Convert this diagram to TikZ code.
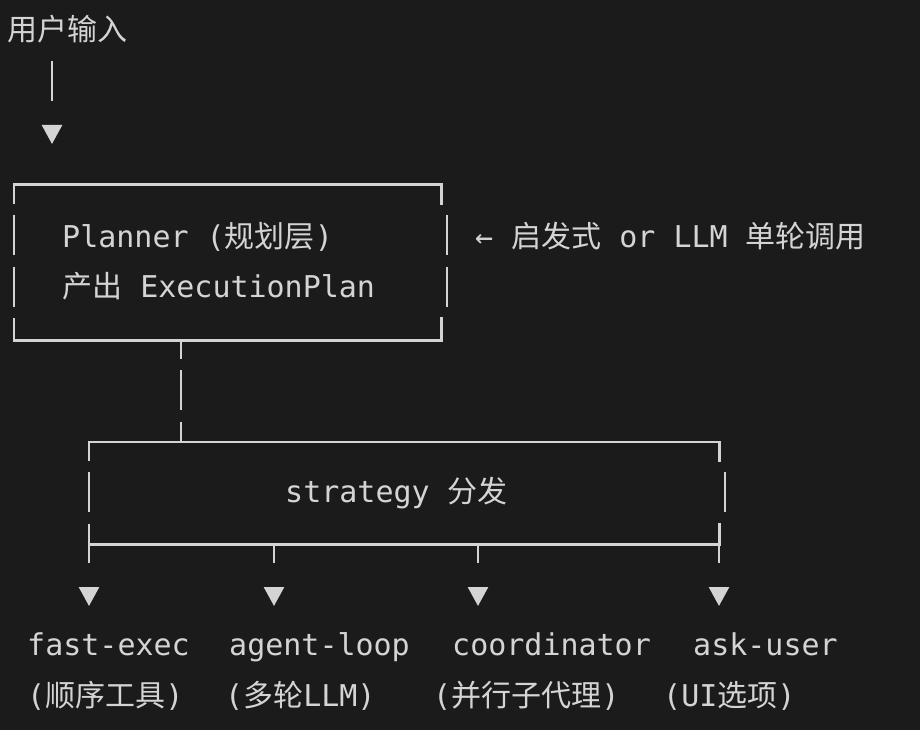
\documentclass[tikz,border=0pt]{standalone}
\usepackage{fontspec}
\setmainfont{DejaVu Sans Mono}
\newfontfamily\cjk{Noto Sans CJK SC}
\usetikzlibrary{arrows.meta}
\definecolor{termbg}{HTML}{1B1B1B}
\definecolor{termfg}{HTML}{D4D4D4}
\def\zh#1{{\cjk #1}}
\tikzset{
  txt/.style={anchor=base west,inner sep=0pt,text=termfg,font=\fontsize{30}{36}\selectfont},
  hline/.style={draw=termfg,line width=2.6pt,line cap=rect},
  vgap/.style={draw=termfg,line width=2.6pt,dash pattern=on 40pt off 11.4pt,dash phase=21pt},
  stemarrow/.style={draw=termfg,line width=2.6pt,dash pattern=on #1 off 200pt,
    -{Triangle[length=19pt,width=20pt]}},
}

\begin{document}
\begin{tikzpicture}[x=1pt,y=-1pt]
          \fill [termbg] (0,0) rectangle (920,730);
          \useasboundingbox (0,0) rectangle (920,730);
          \node [txt] (input) at (7,41) {\zh{用户输入}};
          \coordinate (instem) at (52,61);
          \coordinate (intip) at (52,144);
          \draw [stemarrow=40pt] (instem) -- (intip);
          % planner
          \node [minimum width=427pt,minimum height=155pt,inner sep=0pt] (plan) at (227.5,262.5) {};
          \draw [hline] (plan.north west) -- (plan.north east);
          \draw [hline] (plan.south west) -- (plan.south east);
          \draw [vgap] (plan.north west) -- (plan.south west);
          \draw [hline] (plan.north east) -- ++(0,19);
          \draw [vgap,dash phase=0pt] (447,215.4) -- (447,306.8);
          \draw [hline] (plan.south east) -- ++(0,-21.6);
          \node [txt] (plantitle) at (62,247) {Planner (\zh{规划层})};
          \node [txt] (planout) at (62,297) {\zh{产出} ExecutionPlan};
          \node [txt] (plannote) at (475,247) {← \zh{启发式} or LLM \zh{单轮调用}};
          \coordinate (planfoot) at (181,340);
          \coordinate (disphead) at (181,442);
          \draw [vgap] (planfoot) -- (disphead);
          % dispatch
          \node [minimum width=630pt,minimum height=102pt,inner sep=0pt] (dispatch) at (404,493) {};
          \draw [hline] (dispatch.north west) -- (dispatch.north east);
          \draw [hline] (dispatch.south west) -- (dispatch.south east);
          \draw [vgap] (dispatch.north west) -- (dispatch.south west);
          \draw [hline] (dispatch.north east) -- ++(0,19);
          \draw [vgap,dash phase=0pt] (725,472.4) -- (725,512.4);
          \draw [hline] (dispatch.south east) -- ++(0,-20.2);
          \node [txt] (disptext) at (285,502) {strategy \zh{分发}};
          \coordinate (fasttop) at (89,544);
          \coordinate (fasttip) at (89,606);
          \coordinate (agenttop) at (274,544);
          \coordinate (agenttip) at (274,606);
          \coordinate (coordtop) at (478,544);
          \coordinate (coordtip) at (478,606);
          \coordinate (asktop) at (719,544);
          \coordinate (asktip) at (719,606);
          \draw [stemarrow=19pt] (fasttop) -- (fasttip);
          \draw [stemarrow=19pt] (agenttop) -- (agenttip);
          \draw [stemarrow=19pt] (coordtop) -- (coordtip);
          \draw [stemarrow=19pt] (asktop) -- (asktip);
          % targets
          \node [txt] (fast) at (27,655) {fast-exec};
          \node [txt] (agent) at (229,655) {agent-loop};
          \node [txt] (coord) at (452,655) {coordinator};
          \node [txt] (ask) at (693,655) {ask-user};
          \node [txt] (fastnote) at (27,706) {(\zh{顺序工具})};
          \node [txt] (agentnote) at (225,706) {(\zh{多轮}LLM)};
          \node [txt] (coordnote) at (433,706) {(\zh{并行子代理})};
          \node [txt] (asknote) at (663,706) {(UI\zh{选项})};
\end{tikzpicture}
\end{document}
